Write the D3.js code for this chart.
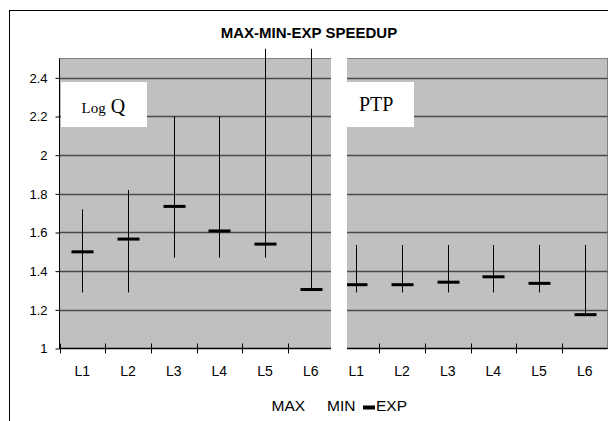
<!DOCTYPE html>
<html>
<head>
<meta charset="utf-8">
<script src="https://cdn.jsdelivr.net/npm/d3@7"></script>
<style>
  html, body { margin: 0; padding: 0; background: #fff; }
  svg { display: block; }
</style>
</head>
<body>
<svg id="chart" width="608" height="421"></svg>
<script>
// ---- data ----
const title = "MAX-MIN-EXP SPEEDUP";
const panels = ["Log Q", "PTP"];
const levels = ["L1", "L2", "L3", "L4", "L5", "L6"];
const maxLogQ = [1.72, 1.82, 2.20, 2.20, 2.55, 2.55];
const minLogQ = [1.29, 1.29, 1.47, 1.47, 1.47, 1.305];
const expLogQ = [1.50, 1.566, 1.735, 1.608, 1.54, 1.305];
const maxPTP = [1.535, 1.535, 1.535, 1.535, 1.535, 1.535];
const minPTP = [1.29, 1.29, 1.29, 1.29, 1.29, 1.175];
const expPTP = [1.33, 1.33, 1.343, 1.371, 1.337, 1.175];
const yTicks = [1, 1.2, 1.4, 1.6, 1.8, 2, 2.2, 2.4];
const legendItems = ["MAX", "MIN", "EXP"];

// ---- build rows ----
const rows = [];
levels.forEach((l, i) => rows.push({ key: "q" + i, label: l, max: maxLogQ[i], min: minLogQ[i], exp: expLogQ[i] }));
levels.forEach((l, i) => rows.push({ key: "p" + i, label: l, max: maxPTP[i], min: minPTP[i], exp: expPTP[i] }));

const svg = d3.select("#chart");
const sans = "'Liberation Sans', Arial, Helvetica, sans-serif";
const serif = "'Liberation Serif', 'Times New Roman', Times, serif";

const plot = { left: 59.5, right: 607.5, top: 58.5, bottom: 348.5 };
const x = d3.scaleBand().domain(rows.map(d => d.key)).range([plot.left, plot.right]).padding(0);
const y = d3.scaleLinear().domain([1, 2.5]).range([plot.bottom, plot.top]);

// outer frame
svg.append("rect").attr("x", 9.5).attr("y", 10.5).attr("width", 700).attr("height", 500)
  .attr("fill", "#fff").attr("stroke", "#000").attr("stroke-width", 1);

// plot background
svg.append("rect").attr("x", plot.left).attr("y", plot.top)
  .attr("width", plot.right - plot.left).attr("height", plot.bottom - plot.top)
  .attr("fill", "#c0c0c0").attr("stroke", "#808080").attr("stroke-width", 1);

// gridlines
svg.append("g").selectAll("line").data(yTicks.filter(t => t > 1)).join("line")
  .attr("x1", plot.left).attr("x2", plot.right)
  .attr("y1", d => Math.round(y(d)) + 0.5).attr("y2", d => Math.round(y(d)) + 0.5)
  .attr("stroke", "#4a4a4a").attr("stroke-width", 1.3);

// y axis
const yAxis = d3.axisLeft(y).tickValues(yTicks).tickSize(4).tickPadding(8)
  .tickFormat(d => d3.format("")(+d.toFixed(1)));
const gy = svg.append("g").attr("transform", `translate(${plot.left},0)`).call(yAxis);
gy.select(".domain").attr("stroke", "#000").attr("d", `M0,${plot.top}V${plot.bottom}`);
gy.selectAll(".tick line").attr("stroke", "#000");
gy.selectAll(".tick text").attr("font-family", sans).attr("font-size", 13).attr("fill", "#000");

// x axis
const xAxis = d3.axisBottom(x).tickSize(0).tickPadding(18).tickFormat(k => rows.find(r => r.key === k).label);
const gx = svg.append("g").attr("transform", `translate(0,${plot.bottom})`).call(xAxis);
gx.select(".domain").attr("stroke", "#000").attr("stroke-width", 1.3).attr("d", `M${plot.left},0H${plot.right}`);
gx.selectAll(".tick text").attr("font-family", sans).attr("font-size", 14).attr("fill", "#000");
// boundary tick marks crossing the axis
const bounds = rows.map(d => x(d.key)).concat([plot.right]);
svg.append("g").selectAll("line").data(bounds).join("line")
  .attr("x1", d => Math.round(d) + 0.5).attr("x2", d => Math.round(d) + 0.5)
  .attr("y1", plot.bottom - 5).attr("y2", plot.bottom + 5)
  .attr("stroke", "#000").attr("stroke-width", 1);

// high-low lines
const cx = d => Math.round(x(d.key) + x.bandwidth() / 2) + 0.5;
svg.append("g").selectAll("line").data(rows).join("line")
  .attr("x1", cx).attr("x2", cx)
  .attr("y1", d => y(d.max)).attr("y2", d => y(d.min))
  .attr("stroke", "#000").attr("stroke-width", 1);

// exp bars
svg.append("g").selectAll("rect").data(rows).join("rect")
  .attr("x", d => cx(d) - 11).attr("width", 22)
  .attr("y", d => y(d.exp) - 1.5).attr("height", 3)
  .attr("fill", "#000");

// white gap between panels
svg.append("rect").attr("x", 331).attr("y", plot.top - 1).attr("width", 16).attr("height", plot.bottom - plot.top + 8)
  .attr("fill", "#fff");

// panel label boxes
const boxes = [
  { name: panels[0], x: 61, w: 86 },
  { name: panels[1], x: 347, w: 67 }
];
svg.append("g").selectAll("rect").data(boxes).join("rect")
  .attr("x", d => d.x).attr("y", 82).attr("width", d => d.w).attr("height", 45)
  .attr("fill", "#fff");
const tq = svg.append("text").attr("x", 81.5).attr("y", 112.5).attr("font-family", serif).attr("fill", "#000");
tq.append("tspan").attr("font-size", 15).text(panels[0].split(" ")[0]);
tq.append("tspan").attr("font-size", 20).text(" " + panels[0].split(" ")[1]);
svg.append("text").attr("x", 359).attr("y", 110.5).attr("font-family", serif).attr("font-size", 20)
  .attr("fill", "#000").text(panels[1]);

// title
svg.append("text").attr("x", 309).attr("y", 38).attr("text-anchor", "middle")
  .attr("font-family", sans).attr("font-weight", "bold").attr("font-size", 15).attr("fill", "#000")
  .text(title);

// legend
const lg = svg.append("g").attr("font-family", sans).attr("font-size", 15.5).attr("fill", "#000");
lg.append("text").attr("x", 271.5).attr("y", 411).text(legendItems[0]);
lg.append("text").attr("x", 327).attr("y", 411).text(legendItems[1]);
lg.append("rect").attr("x", 363).attr("y", 405.5).attr("width", 12).attr("height", 4).attr("fill", "#000");
lg.append("text").attr("x", 376).attr("y", 411).text(legendItems[2]);
</script>
</body>
</html>
